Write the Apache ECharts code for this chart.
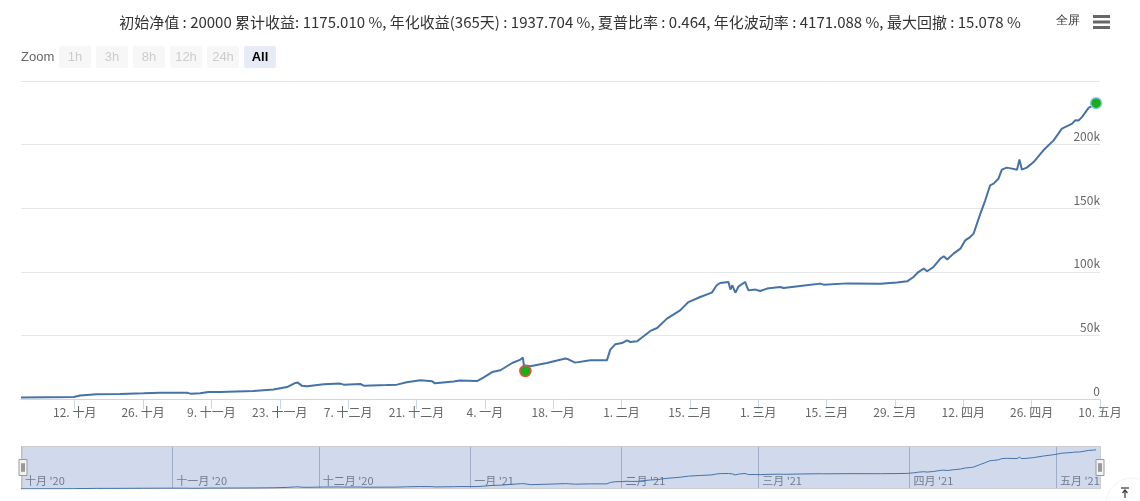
<!DOCTYPE html>
<html>
<head>
<meta charset="utf-8">
<script src="https://cdn.jsdelivr.net/npm/echarts@6/dist/echarts.min.js"></script>
<style>
  html, body { margin: 0; padding: 0; background: #fff; }
  #main { width: 1140px; height: 501px; }
</style>
</head>
<body>
<div id="main"></div>
<script>
// 净值曲线数据（日期为相对 2020-10-01 的天数）
var startDate = [2020, 10, 1];
var dayOffsets = [0, 10.8, 12.1, 15.5, 20.3, 20.7, 25.1, 28.5, 34.0, 34.7,
    36.7, 38.4, 40.8, 47.6, 51.7, 54.5, 56.2, 56.7, 57.5, 58.6,
    62.0, 65.4, 66.1, 69.5, 70.2, 74.9, 77.0, 79.0, 81.8, 84.2,
    84.8, 88.6, 89.9, 90.3, 93.4, 94.7, 96.5, 98.2, 100.6, 102.3,
    102.8, 103.0, 104.3, 107.7, 111.5, 112.1, 113.5, 116.6, 120.0, 120.7,
    121.7, 123.1, 124.1, 124.8, 126.2, 128.9, 130.3, 132.3, 135.0, 136.7,
    139.1, 141.5, 142.5, 143.2, 144.9, 145.3, 145.7, 146.3, 147.0, 148.3,
    149.0, 150.4, 151.4, 152.8, 155.5, 156.2, 159.6, 163.7, 164.4, 169.2,
    176.0, 179.4, 181.5, 182.8, 183.8, 184.9, 185.6, 186.9, 188.3, 189.0,
    189.7, 191.0, 192.4, 193.4, 194.4, 195.1, 196.5, 197.5, 198.5, 199.2,
    199.5, 200.2, 200.9, 201.3, 201.9, 203.0, 204.0, 204.5, 205.0, 206.0,
    207.4, 209.4, 211.5, 213.2, 215.3, 215.9, 216.6, 217.3, 218.7, 219.7,
    220.2];
var netValues = [1100, 1600, 2700, 3700, 3900, 3100, 4500, 5000, 5000, 4200,
    4500, 5500, 5500, 6300, 7400, 9400, 12600, 12900, 10500, 10000,
    11600, 12100, 11300, 11800, 10500, 11000, 11300, 13100, 14700, 13900,
    12300, 13700, 14500, 13100, 14100, 16800, 21200, 22600, 28300, 31000,
    32500, 26500, 25700, 28300, 31800, 31200, 28600, 30400, 30400, 38800,
    43000, 44000, 46100, 44800, 45400, 53500, 55800, 63200, 69700, 76200,
    80200, 83600, 89400, 91200, 92000, 86000, 89400, 83600, 88600, 92000,
    85400, 86000, 84900, 86800, 88000, 87200, 88800, 90700, 89900, 90900,
    90700, 91500, 92500, 95900, 99800, 102500, 100400, 103800, 110400, 112200,
    109600, 114300, 118200, 124700, 127300, 130000, 145700, 156200, 168000, 169300,
    168000, 173200, 180300, 179200, 181900, 181100, 180300, 188200, 180300, 181900,
    186300, 195500, 203300, 212500, 216500, 219100, 219000, 221600, 229000, 230800,
    232600];

// 买卖点
var tradeDays = [103.3, 220.2];
var tradeValues = [22000, 232600];
var tradeBorders = ['#e8503a', '#8ec5ea'];

// 坐标轴刻度
var tickDates = ['2020-10-12', '2020-10-26', '2020-11-09', '2020-11-23', '2020-12-07',
    '2020-12-21', '2021-01-04', '2021-01-18', '2021-02-01', '2021-02-15', '2021-03-01',
    '2021-03-15', '2021-03-29', '2021-04-12', '2021-04-26', '2021-05-10'];
var navMonths = ['2020-10-01', '2020-11-01', '2020-12-01', '2021-01-01', '2021-02-01',
    '2021-03-01', '2021-04-01', '2021-05-01'];
var axisStart = '2020-10-01';
var axisEnd = '2021-05-10';
var monthNames = ['一月', '二月', '三月', '四月', '五月', '六月', '七月', '八月', '九月', '十月', '十一月', '十二月'];
var zoomButtons = ['1h', '3h', '8h', '12h', '24h', 'All'];

var titleText = '初始净值 : 20000 累计收益: 1175.010 %, 年化收益(365天) : 1937.704 %, 夏普比率 : 0.464, 年化波动率 : 4171.088 %, 最大回撤 : 15.078 %';

function parseDay(s) {
    var p = s.split('-');
    return new Date(+p[0], +p[1] - 1, +p[2]).getTime();
}
var DAY = 86400000;
var base = new Date(startDate[0], startDate[1] - 1, startDate[2]).getTime();

var lineData = dayOffsets.map(function (d, i) { return [base + d * DAY, netValues[i]]; });
var tradeData = tradeDays.map(function (d, i) {
    return { value: [base + d * DAY, tradeValues[i]], itemStyle: { borderColor: tradeBorders[i] } };
});

var myChart = echarts.init(document.getElementById('main'));

var option = {
    animation: false,
    textStyle: { fontFamily: '"Noto Sans CJK SC", "Noto Sans", sans-serif' },
    title: {
        text: titleText,
        left: 'center',
        top: 10,
        textStyle: { fontSize: 15, fontWeight: 'normal', color: '#333' }
    },
    graphic: [
        { type: 'text', left: 21, top: 51, style: { text: 'Zoom', fill: '#666', fontSize: 13 } },
        { type: 'group', left: 59, top: 46, children: zoomButtons.map(function (b, i) {
            var sel = b === 'All';
            return {
                type: 'group', x: i * 37,
                children: [
                    { type: 'rect', shape: { x: 0, y: 0, width: 32, height: 22, r: 2 },
                      style: { fill: sel ? '#e6ebf5' : '#f7f7f7' } },
                    { type: 'text', x: 16, y: 11, style: { text: b, align: 'center', verticalAlign: 'middle',
                      fill: sel ? '#000' : '#cccccc', fontSize: 13, fontWeight: sel ? 'bold' : 'normal' } }
                ]
            };
        }) },
        { type: 'text', left: 1056, top: 15, style: { text: '全屏', fill: '#333', fontSize: 12 } },
        { type: 'rect', shape: { x: 1093, y: 15, width: 17, height: 3 }, style: { fill: '#666' } },
        { type: 'rect', shape: { x: 1093, y: 20.5, width: 17, height: 3 }, style: { fill: '#666' } },
        { type: 'rect', shape: { x: 1093, y: 26, width: 17, height: 3 }, style: { fill: '#666' } },
        { type: 'circle', shape: { cx: 1132, cy: 504, r: 26 }, style: { fill: '#fff', stroke: '#f2f2f2' } },
        { type: 'line', shape: { x1: 1121, y1: 488, x2: 1129, y2: 488 }, style: { stroke: '#333', lineWidth: 1.2 } },
        { type: 'line', shape: { x1: 1125, y1: 490, x2: 1125, y2: 498 }, style: { stroke: '#333', lineWidth: 1.2 } },
        { type: 'polyline', shape: { points: [[1122.5, 493], [1125, 490], [1127.5, 493]] }, style: { stroke: '#333', lineWidth: 1.2, fill: null } }
    ],
    grid: [
        { left: 21, right: 40, top: 81, height: 318 },
        { left: 21, right: 40, top: 446, height: 43 }
    ],
    xAxis: [{
        type: 'value',
        gridIndex: 0,
        min: parseDay(axisStart),
        max: parseDay(axisEnd),
        axisLine: { lineStyle: { color: '#ccd6eb' } },
        axisTick: { show: true, length: 10, lineStyle: { color: '#ccd6eb' }, customValues: tickDates.map(parseDay) },
        axisLabel: {
            customValues: tickDates.map(parseDay),
            color: '#666', fontSize: 12, margin: 7, hideOverlap: false,
            formatter: function (v) {
                var d = new Date(v);
                return d.getDate() + '. ' + monthNames[d.getMonth()];
            }
        },
        splitLine: { show: false }
    }, {
        type: 'value',
        gridIndex: 1,
        min: parseDay(axisStart),
        max: parseDay(axisEnd),
        axisLine: { show: false },
        axisTick: { show: true, inside: true, length: 43, lineStyle: { color: '#b8bfcc' }, customValues: navMonths.map(parseDay) },
        axisLabel: {
            customValues: navMonths.map(parseDay),
            inside: true, margin: 3, align: 'left', verticalAlign: 'bottom', padding: [0, 0, 0, 4],
            color: '#777', fontSize: 11, hideOverlap: false,
            formatter: function (v) {
                var d = new Date(v);
                return monthNames[d.getMonth()] + " '" + String(d.getFullYear()).slice(2);
            }
        },
        splitLine: { show: false }
    }],
    yAxis: [{
        type: 'value',
        gridIndex: 0,
        position: 'right',
        min: 0,
        max: 250000,
        interval: 50000,
        axisLine: { show: false },
        axisTick: { show: false },
        axisLabel: {
            inside: true, margin: 0, verticalAlign: 'bottom', padding: [0, 0, 2, 0],
            color: '#666', fontSize: 12,
            formatter: function (v) {
                if (v >= 250000) return '';
                return v === 0 ? '0' : (v / 1000) + 'k';
            }
        },
        splitLine: { lineStyle: { color: '#e6e6e6' } }
    }, {
        type: 'value',
        gridIndex: 1,
        min: 0,
        max: 255000,
        show: false,
        splitLine: { show: false }
    }],
    dataZoom: [{
        type: 'slider',
        xAxisIndex: 0,
        filterMode: 'none',
        start: 0,
        end: 100,
        left: 21,
        right: 40,
        top: 446,
        height: 43,
        backgroundColor: 'transparent',
        borderColor: '#cccccc',
        fillerColor: 'rgba(102,133,194,0.3)',
        showDataShadow: false,
        showDetail: false,
        brushSelect: false,
        moveHandleSize: 0,
        handleIcon: 'path://M0,0H8V16H0Z M2.5,4V12H3.5V4Z M4.5,4V12H5.5V4Z',
        handleSize: 16,
        handleStyle: { color: '#f2f2f2', borderColor: '#999', borderWidth: 1 },
        dataBackground: { lineStyle: { opacity: 0 }, areaStyle: { opacity: 0 } }
    }],
    series: [{
        name: '净值',
        type: 'line',
        xAxisIndex: 0,
        yAxisIndex: 0,
        data: lineData,
        showSymbol: false,
        lineStyle: { color: '#4572a7', width: 2 },
        itemStyle: { color: '#4572a7' },
        z: 2
    }, {
        name: '买卖点',
        type: 'scatter',
        xAxisIndex: 0,
        yAxisIndex: 0,
        data: tradeData,
        symbolSize: 11,
        itemStyle: { color: '#1aae1a', borderWidth: 1.5, opacity: 1 },
        z: 3
    }, {
        name: '导航',
        type: 'line',
        xAxisIndex: 1,
        yAxisIndex: 1,
        data: lineData,
        showSymbol: false,
        silent: true,
        lineStyle: { color: '#4572a7', width: 1 },
        z: 5
    }]
};

myChart.setOption(option);
myChart.resize();
</script>
</body>
</html>
